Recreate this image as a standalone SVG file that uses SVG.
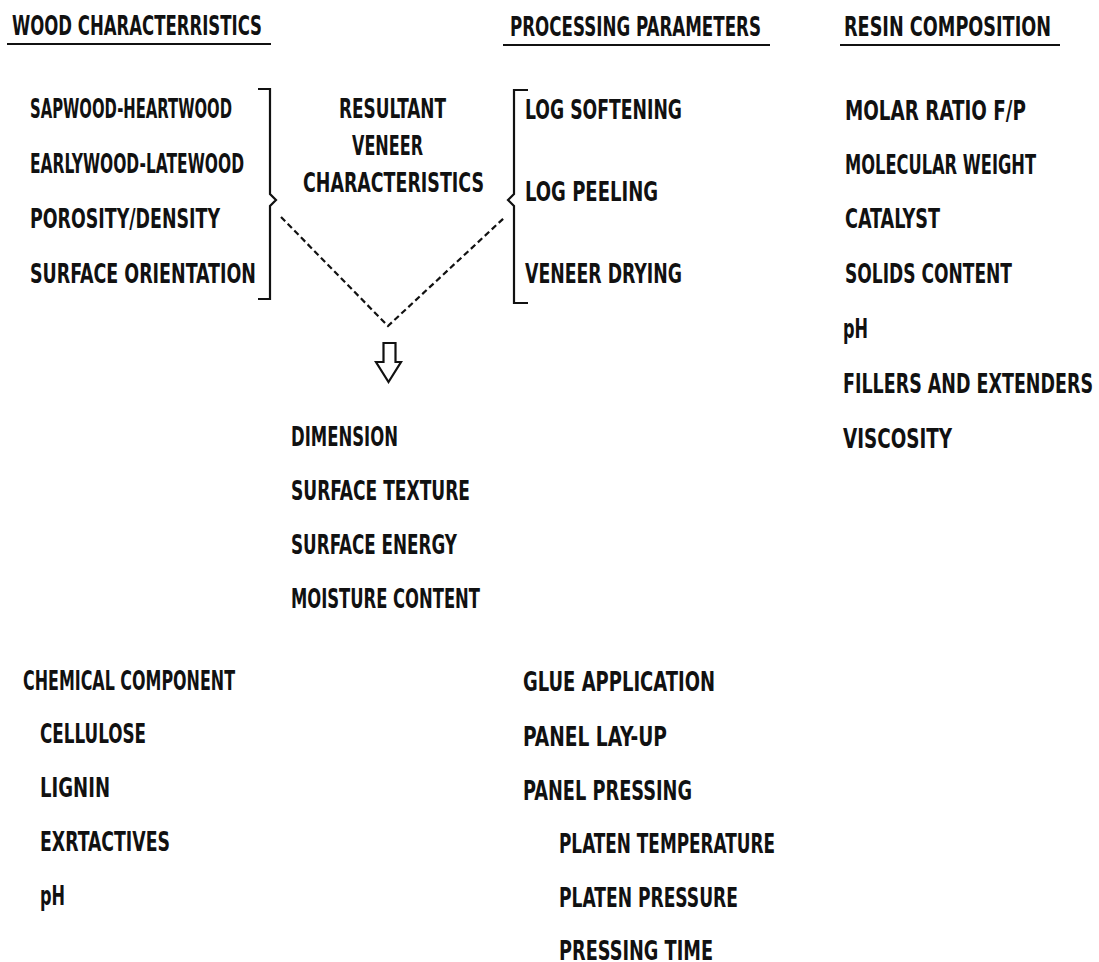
<svg xmlns="http://www.w3.org/2000/svg" width="1099" height="962" viewBox="0 0 1099 962">
<style>
text{font-family:"Liberation Sans Narrow","DejaVu Sans Condensed","Liberation Sans",sans-serif;font-stretch:condensed;font-size:27px;font-weight:bold;fill:#111;}
.ln{stroke:#111;stroke-width:2.2;fill:none;}
.dash{stroke:#111;stroke-width:2.2;fill:none;stroke-dasharray:6 3.5;}
</style>
<rect width="1099" height="962" fill="#fff"/>
<g id="wood">
<text x="12" y="35" textLength="250" lengthAdjust="spacingAndGlyphs">WOOD CHARACTERRISTICS</text>
<line class="ln" x1="7" y1="44" x2="271" y2="44"/>
<text x="30" y="118" textLength="202" lengthAdjust="spacingAndGlyphs">SAPWOOD-HEARTWOOD</text>
<text x="30" y="173" textLength="214" lengthAdjust="spacingAndGlyphs">EARLYWOOD-LATEWOOD</text>
<text x="30" y="228" textLength="190" lengthAdjust="spacingAndGlyphs">POROSITY/DENSITY</text>
<text x="30" y="283" textLength="226" lengthAdjust="spacingAndGlyphs">SURFACE ORIENTATION</text>
<path class="ln" d="M258,89 H270 V194 L276,200 L270,206 V299 H258"/>
</g>
<g id="processing">
<text x="510" y="36" textLength="251" lengthAdjust="spacingAndGlyphs">PROCESSING PARAMETERS</text>
<line class="ln" x1="503" y1="45" x2="770" y2="45"/>
<text x="525" y="119" textLength="157" lengthAdjust="spacingAndGlyphs">LOG SOFTENING</text>
<text x="525" y="201" textLength="133" lengthAdjust="spacingAndGlyphs">LOG PEELING</text>
<text x="525" y="283" textLength="157" lengthAdjust="spacingAndGlyphs">VENEER DRYING</text>
<path class="ln" d="M528,90 H514 V194 L508,200 L514,206 V303 H528"/>
</g>
<g id="resin">
<text x="844" y="36" textLength="207" lengthAdjust="spacingAndGlyphs">RESIN COMPOSITION</text>
<line class="ln" x1="840" y1="45" x2="1060" y2="45"/>
<text x="845" y="120" textLength="181" lengthAdjust="spacingAndGlyphs">MOLAR RATIO F/P</text>
<text x="845" y="174" textLength="191" lengthAdjust="spacingAndGlyphs">MOLECULAR WEIGHT</text>
<text x="845" y="228" textLength="95" lengthAdjust="spacingAndGlyphs">CATALYST</text>
<text x="845" y="283" textLength="167" lengthAdjust="spacingAndGlyphs">SOLIDS CONTENT</text>
<text x="843" y="338" textLength="25" lengthAdjust="spacingAndGlyphs">pH</text>
<text x="843" y="393" textLength="250" lengthAdjust="spacingAndGlyphs">FILLERS AND EXTENDERS</text>
<text x="843" y="448" textLength="109" lengthAdjust="spacingAndGlyphs">VISCOSITY</text>
</g>
<g id="resultant">
<text x="339" y="118" textLength="107" lengthAdjust="spacingAndGlyphs">RESULTANT</text>
<text x="352" y="155" textLength="71" lengthAdjust="spacingAndGlyphs">VENEER</text>
<text x="303" y="192" textLength="181" lengthAdjust="spacingAndGlyphs">CHARACTERISTICS</text>
</g>
<g id="connectors">
<path class="dash" d="M281,217 L388,326 L504,218"/>
<path class="ln" d="M383.5,343 H395.5 V362 H401 L388.5,382 L376,362 H383.5 Z" stroke-width="2"/>
</g>
<g id="veneer-characteristics">
<text x="291" y="446" textLength="107" lengthAdjust="spacingAndGlyphs">DIMENSION</text>
<text x="291" y="500" textLength="179" lengthAdjust="spacingAndGlyphs">SURFACE TEXTURE</text>
<text x="291" y="554" textLength="166" lengthAdjust="spacingAndGlyphs">SURFACE ENERGY</text>
<text x="291" y="608" textLength="189" lengthAdjust="spacingAndGlyphs">MOISTURE CONTENT</text>
</g>
<g id="chemical">
<text x="23" y="690" textLength="212" lengthAdjust="spacingAndGlyphs">CHEMICAL COMPONENT</text>
<text x="40" y="743" textLength="106" lengthAdjust="spacingAndGlyphs">CELLULOSE</text>
<text x="40" y="797" textLength="70" lengthAdjust="spacingAndGlyphs">LIGNIN</text>
<text x="40" y="851" textLength="130" lengthAdjust="spacingAndGlyphs">EXRTACTIVES</text>
<text x="40" y="905" textLength="25" lengthAdjust="spacingAndGlyphs">pH</text>
</g>
<g id="panel">
<text x="523" y="691" textLength="192" lengthAdjust="spacingAndGlyphs">GLUE APPLICATION</text>
<text x="523" y="746" textLength="144" lengthAdjust="spacingAndGlyphs">PANEL LAY-UP</text>
<text x="523" y="800" textLength="169" lengthAdjust="spacingAndGlyphs">PANEL PRESSING</text>
<text x="559" y="853" textLength="216" lengthAdjust="spacingAndGlyphs">PLATEN TEMPERATURE</text>
<text x="559" y="907" textLength="179" lengthAdjust="spacingAndGlyphs">PLATEN PRESSURE</text>
<text x="559" y="960" textLength="154" lengthAdjust="spacingAndGlyphs">PRESSING TIME</text>
</g>
</svg>
